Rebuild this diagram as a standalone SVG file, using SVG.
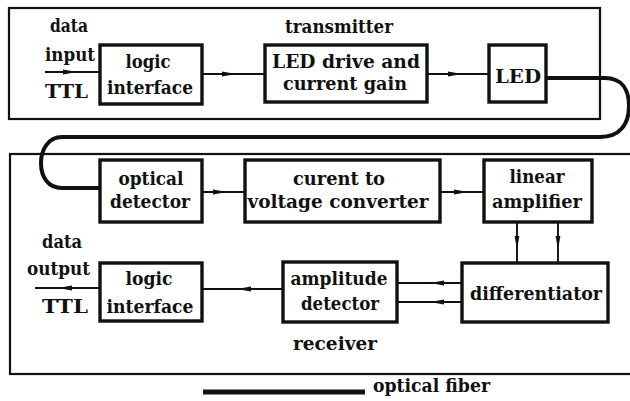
<svg xmlns="http://www.w3.org/2000/svg" width="630" height="401" viewBox="0 0 630 401">
<style>
  text { font-family: "DejaVu Serif", "Liberation Serif", serif; font-size: 19px; font-weight: bold; fill: #111; }
  .box { fill: #fff; stroke: #111; stroke-width: 3.4; }
  .frame { fill: none; stroke: #111; stroke-width: 2.2; }
  .conn { fill: none; stroke: #111; stroke-width: 1.9; marker-mid: url(#arr); }
  .fiber { fill: none; stroke: #111; stroke-width: 4; stroke-linejoin: round; }
</style>
<defs>
  <marker id="arr" viewBox="0 0 14 6" refX="14" refY="3" markerWidth="14" markerHeight="6" markerUnits="userSpaceOnUse" orient="auto">
    <path d="M0,0.6 L14,3 L0,5.4 Z" fill="#111"/>
  </marker>
</defs>
<rect width="630" height="401" fill="#fff"/>

<g id="transmitter">
  <rect class="frame" x="9" y="8" width="591" height="111"/>
  <text x="339" y="33" text-anchor="middle" textLength="108" lengthAdjust="spacingAndGlyphs">transmitter</text>
</g>
<g id="receiver">
  <rect class="frame" x="10" y="154" width="640" height="220"/>
  <text x="335" y="350" text-anchor="middle" textLength="84" lengthAdjust="spacingAndGlyphs">receiver</text>
</g>

<g id="data-input">
  <text x="50" y="32" textLength="38" lengthAdjust="spacingAndGlyphs">data</text>
  <text x="45" y="61" textLength="50" lengthAdjust="spacingAndGlyphs">input</text>
  <text x="45" y="98" textLength="43" lengthAdjust="spacingAndGlyphs">TTL</text>
</g>
<g id="logic-interface-tx">
  <rect class="box" x="100" y="45" width="102" height="59"/>
  <text x="148" y="68" text-anchor="middle" textLength="45" lengthAdjust="spacingAndGlyphs">logic</text>
  <text x="150" y="94" text-anchor="middle" textLength="86" lengthAdjust="spacingAndGlyphs">interface</text>
</g>
<g id="led-drive">
  <rect class="box" x="265" y="45" width="162" height="57"/>
  <text x="346" y="68" text-anchor="middle" textLength="148" lengthAdjust="spacingAndGlyphs">LED drive and</text>
  <text x="345" y="90" text-anchor="middle" textLength="124" lengthAdjust="spacingAndGlyphs">current gain</text>
</g>
<g id="led">
  <rect class="box" x="489" y="45" width="57" height="57"/>
  <text x="518" y="83" text-anchor="middle" textLength="46" lengthAdjust="spacingAndGlyphs">LED</text>
</g>

<g id="optical-detector">
  <rect class="box" x="100" y="160" width="102" height="62"/>
  <text x="151" y="185" text-anchor="middle" textLength="65" lengthAdjust="spacingAndGlyphs">optical</text>
  <text x="150" y="208" text-anchor="middle" textLength="80" lengthAdjust="spacingAndGlyphs">detector</text>
</g>
<g id="current-voltage">
  <rect class="box" x="245" y="160" width="195" height="62"/>
  <text x="339" y="185" text-anchor="middle" textLength="92" lengthAdjust="spacingAndGlyphs">curent to</text>
  <text x="338" y="208" text-anchor="middle" textLength="181" lengthAdjust="spacingAndGlyphs">voltage converter</text>
</g>
<g id="linear-amplifier">
  <rect class="box" x="484" y="160" width="108" height="62"/>
  <text x="537" y="183" text-anchor="middle" textLength="55" lengthAdjust="spacingAndGlyphs">linear</text>
  <text x="537" y="208" text-anchor="middle" textLength="90" lengthAdjust="spacingAndGlyphs">amplifier</text>
</g>
<g id="differentiator">
  <rect class="box" x="462" y="263" width="146" height="59"/>
  <text x="536" y="300" text-anchor="middle" textLength="132" lengthAdjust="spacingAndGlyphs">differentiator</text>
</g>
<g id="amplitude-detector">
  <rect class="box" x="283" y="262" width="114" height="60"/>
  <text x="339" y="285" text-anchor="middle" textLength="97" lengthAdjust="spacingAndGlyphs">amplitude</text>
  <text x="340" y="310" text-anchor="middle" textLength="78" lengthAdjust="spacingAndGlyphs">detector</text>
</g>
<g id="logic-interface-rx">
  <rect class="box" x="100" y="263" width="102" height="58"/>
  <text x="149" y="285" text-anchor="middle" textLength="47" lengthAdjust="spacingAndGlyphs">logic</text>
  <text x="150" y="313" text-anchor="middle" textLength="87" lengthAdjust="spacingAndGlyphs">interface</text>
</g>
<g id="data-output">
  <text x="42" y="248" textLength="40" lengthAdjust="spacingAndGlyphs">data</text>
  <text x="27" y="275" textLength="63" lengthAdjust="spacingAndGlyphs">output</text>
  <text x="42" y="313" textLength="46" lengthAdjust="spacingAndGlyphs">TTL</text>
</g>

<g id="connectors">
  <polyline class="conn" points="45,72 77,72 100,72"/>
  <polyline class="conn" points="202,74 236,74 265,74"/>
  <polyline class="conn" points="427,74 462,74 489,74"/>
  <polyline class="conn" points="202,192 227,192 245,192"/>
  <polyline class="conn" points="440,192 468,192 484,192"/>
  <polyline class="conn" points="517,222 517,250 517,263"/>
  <polyline class="conn" points="558,222 558,250 558,263"/>
  <polyline class="conn" points="462,283 430,283 397,283"/>
  <polyline class="conn" points="462,302 430,302 397,302"/>
  <polyline class="conn" points="283,289 237,289 202,289"/>
  <polyline class="conn" points="100,288 58,288 35,288"/>
  <path class="fiber" d="M546,78 H605 C622,78 629,90 629,106 C629,124 620,137 600,137 H62 C48,137 41,150 41,163 C41,177 48,188 62,188 H100"/>
</g>

<g id="legend">
  <line x1="203" y1="392" x2="365" y2="392" stroke="#111" stroke-width="5"/>
  <text x="373" y="392" textLength="117" lengthAdjust="spacingAndGlyphs">optical fiber</text>
</g>
</svg>
